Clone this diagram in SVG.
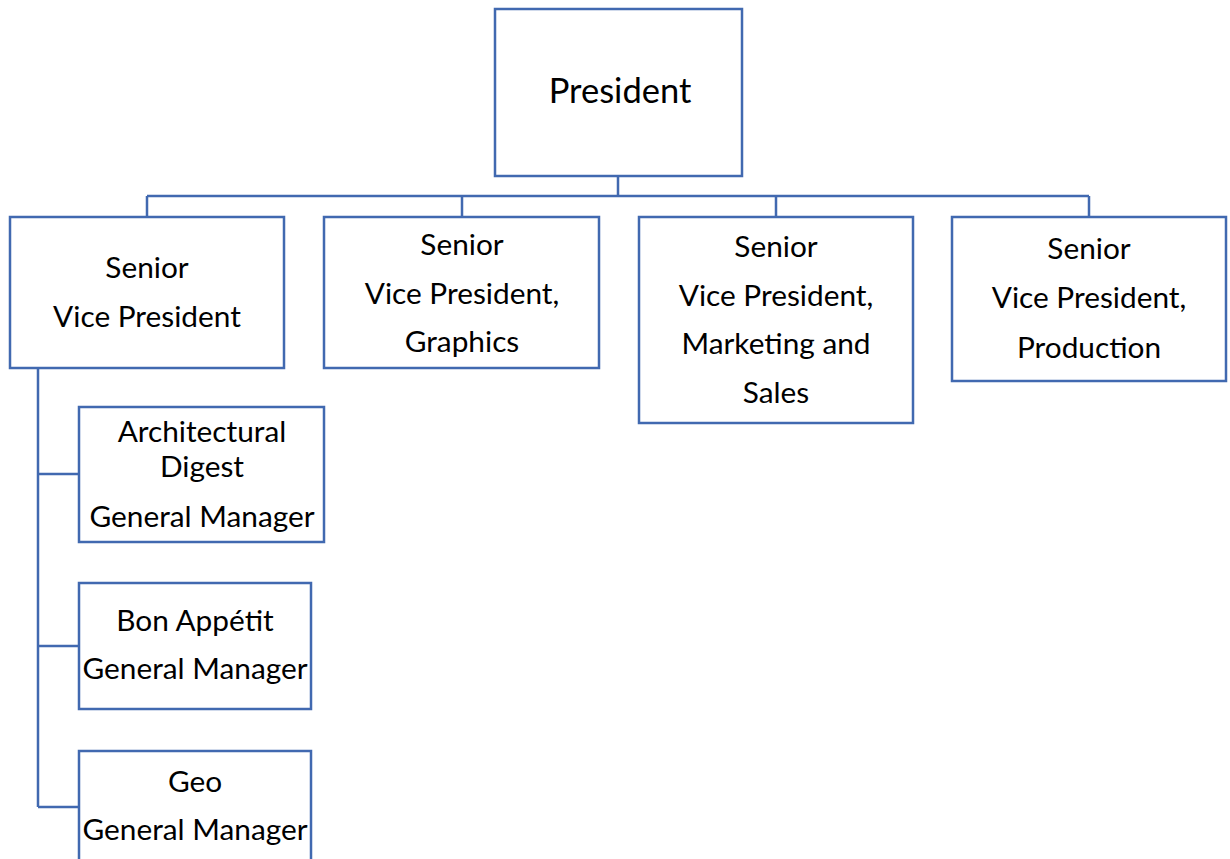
<svg xmlns="http://www.w3.org/2000/svg" width="1230" height="859" viewBox="0 0 1230 859">
<style>
.box{fill:#fff;stroke:#4169b0;stroke-width:2.5}
.con{fill:none;stroke:#4169b0;stroke-width:2.5}
text{font-family:Lato,"Liberation Sans",sans-serif;font-size:29.8px;fill:#000;text-anchor:middle}
.big{font-size:34.5px}
</style>
<rect width="1230" height="859" fill="#fff"/>
<g id="connectors">
<path class="con" d="M618 176V196M147 196H1089M147 196V217M462 196V217M776 196V217M1089 196V217"/>
<path class="con" d="M38 367V807M38 474H79M38 646H79M38 807H79"/>
</g>
<g id="president">
<rect class="box" x="495" y="9" width="247" height="167"/>
<text class="big" x="620" y="103">President</text>
</g>
<g id="svp1">
<rect class="box" x="10" y="217" width="274" height="151"/>
<text x="147" y="278">Senior</text>
<text x="147" y="327">Vice President</text>
</g>
<g id="svp-graphics">
<rect class="box" x="324" y="217" width="275" height="151"/>
<text x="462" y="255">Senior</text>
<text x="462" y="304">Vice President,</text>
<text x="462" y="352">Graphics</text>
</g>
<g id="svp-marketing">
<rect class="box" x="639" y="217" width="274" height="206"/>
<text x="776" y="257">Senior</text>
<text x="776" y="306">Vice President,</text>
<text x="776" y="354">Marketing and</text>
<text x="776" y="403">Sales</text>
</g>
<g id="svp-production">
<rect class="box" x="952" y="217" width="274" height="164"/>
<text x="1089" y="259">Senior</text>
<text x="1089" y="308">Vice President,</text>
<text x="1089" y="358">Production</text>
</g>
<g id="gm-ad">
<rect class="box" x="79" y="407" width="245" height="135"/>
<text x="202" y="442">Architectural</text>
<text x="202" y="477">Digest</text>
<text x="202" y="527">General Manager</text>
</g>
<g id="gm-ba">
<rect class="box" x="79" y="583" width="232" height="126"/>
<text x="195" y="631">Bon Appétit</text>
<text x="195" y="679">General Manager</text>
</g>
<g id="gm-geo">
<rect class="box" x="79" y="751" width="232" height="120"/>
<text x="195" y="792">Geo</text>
<text x="195" y="840">General Manager</text>
</g>
</svg>
